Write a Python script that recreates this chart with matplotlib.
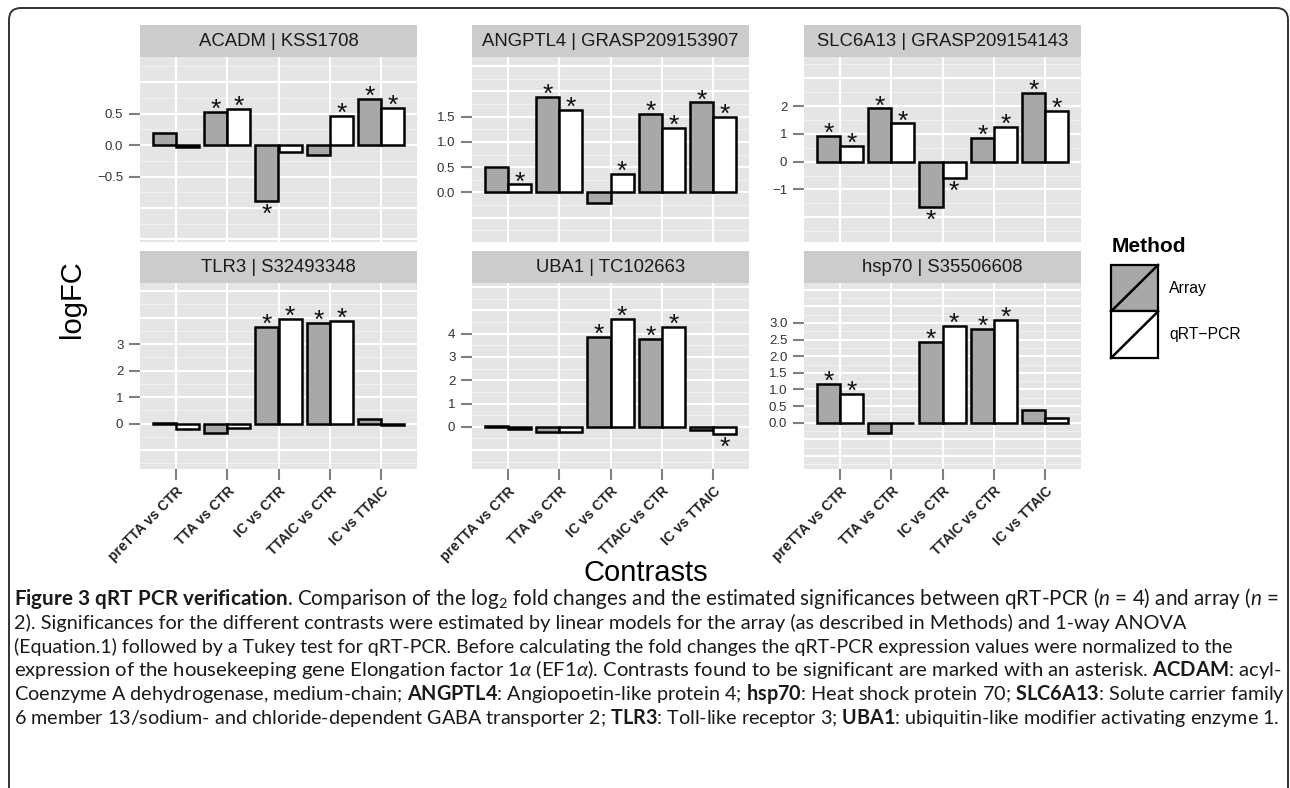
import numpy as np
import matplotlib
matplotlib.use("Agg")
import matplotlib.pyplot as plt
from matplotlib.patches import FancyBboxPatch, Rectangle

plt.rcParams['font.family'] = ['Liberation Sans', 'DejaVu Sans']
plt.rcParams['mathtext.fontset'] = 'custom'
plt.rcParams['mathtext.rm'] = 'Lato'
plt.rcParams['mathtext.it'] = 'Lato:italic'
plt.rcParams['mathtext.bf'] = 'Lato:bold'

# Data
contrasts = ['preTTA vs CTR', 'TTA vs CTR', 'IC vs CTR', 'TTAIC vs CTR', 'IC vs TTAIC']
panel_titles = ['ACADM | KSS1708', 'ANGPTL4 | GRASP209153907', 'SLC6A13 | GRASP209154143',
                'TLR3 | S32493348', 'UBA1 | TC102663', 'hsp70 | S35506608']
methods = ['Array', 'qRT\u2212PCR']

array_fc = [
    [0.195, 0.53, -0.885, -0.15, 0.74],
    [0.507, 1.89, -0.20, 1.56, 1.78],
    [0.94, 1.92, -1.62, 0.86, 2.48],
    [0.03, -0.36, 3.64, 3.79, 0.18],
    [0.04, -0.24, 3.86, 3.76, -0.12],
    [1.17, -0.30, 2.42, 2.81, 0.38],
]
qpcr_fc = [
    [-0.03, 0.58, -0.105, 0.47, 0.595],
    [0.16, 1.63, 0.36, 1.27, 1.50],
    [0.58, 1.38, -0.58, 1.24, 1.83],
    [-0.21, -0.15, 3.95, 3.89, -0.05],
    [-0.10, -0.24, 4.62, 4.30, -0.31],
    [0.855, -0.02, 2.92, 3.08, 0.15],
]
array_sig = [
    [0, 1, 1, 0, 1],
    [0, 1, 0, 1, 1],
    [1, 1, 1, 1, 1],
    [0, 0, 1, 1, 0],
    [0, 0, 1, 1, 0],
    [1, 0, 1, 1, 0],
]
qpcr_sig = [
    [0, 1, 0, 1, 1],
    [1, 1, 1, 1, 1],
    [1, 1, 1, 1, 1],
    [0, 0, 1, 1, 0],
    [0, 0, 1, 1, 1],
    [1, 0, 1, 1, 0],
]
y_labelled = [
    [-0.5, 0.0, 0.5],
    [0.0, 0.5, 1.0, 1.5],
    [-1, 0, 1, 2],
    [0, 1, 2, 3],
    [0, 1, 2, 3, 4],
    [0.0, 0.5, 1.0, 1.5, 2.0, 2.5, 3.0],
]

# scale layout
y_limits = [(-1.54, 1.40), (-0.98, 2.68), (-2.89, 3.77),
            (-1.71, 5.31), (-1.81, 6.17), (-1.39, 4.20)]
major_step = [0.5, 0.5, 1, 1, 1, 0.5]

W, H = 1290, 788
fig = plt.figure(figsize=(W / 100, H / 100), dpi=100)


def px_box(x0, y0, x1, y1):
    return [x0 / W, 1 - y1 / H, (x1 - x0) / W, (y1 - y0) / H]


col_left = [140, 472, 804]
panel_w = 277
row_strip_top = [25, 251]
row_panel_top = [57, 283]
row_panel_bot = [242, 469]

fill_array = '#A8A8A8'
fill_qpcr = 'white'
bar_w = 0.45
x = np.arange(1, len(contrasts) + 1)

for p in range(6):
    r, c = divmod(p, 3)
    x0 = col_left[c]
    ax = fig.add_axes(px_box(x0, row_panel_top[r], x0 + panel_w, row_panel_bot[r]))
    ax.set_facecolor('#E5E5E5')
    for s in ax.spines.values():
        s.set_visible(False)
    lo, hi = y_limits[p]
    ax.set_xlim(0.3, len(contrasts) + 0.7)
    ax.set_ylim(lo, hi)

    # grid
    st = major_step[p]
    for g in np.arange(np.ceil(lo / st) * st, hi, st):
        ax.axhline(g, color='white', lw=1.5, zorder=0.5)
    for g in np.arange(np.ceil(lo / st - 0.5) + 0.5, hi / st, 1.0) * st:
        ax.axhline(g, color='#F2F2F2', lw=0.7, zorder=0.4)
    for xi in x:
        ax.axvline(xi, color='white', lw=1.5, zorder=0.5)

    a = np.array(array_fc[p])
    q = np.array(qpcr_fc[p])
    ax.bar(x - bar_w / 2, a, width=bar_w, color=fill_array, edgecolor='black', linewidth=1.8, zorder=2)
    ax.bar(x + bar_w / 2, q, width=bar_w, color=fill_qpcr, edgecolor='black', linewidth=1.8, zorder=2)

    for vals, sig, off in ((a, array_sig[p], -bar_w / 2), (q, qpcr_sig[p], bar_w / 2)):
        for xi, v, sg in zip(x, vals, sig):
            if not sg:
                continue
            dy = -3.6 if v >= 0 else -15.0
            ax.annotate('*', xy=(xi + off, v), xytext=(0, dy), textcoords='offset points',
                        ha='center', va='baseline', fontsize=19, color='#111111', zorder=3)

    ax.set_yticks(y_labelled[p])
    ax.set_yticklabels([(('%g' % t) if major_step[p] >= 1 else '%.1f' % t).replace('-', '\u2212')
                        for t in y_labelled[p]])
    ax.tick_params(axis='y', length=8, width=1.5, color='#7F7F7F', pad=4,
                   labelsize=9.5, labelcolor='#333333')
    if r == 1:
        ax.set_xticks(x)
        ax.set_xticklabels(contrasts, rotation=45, ha='right', va='top', rotation_mode='anchor',
                           fontweight='bold', fontsize=10, color='#222222')
        ax.tick_params(axis='x', length=8, width=1.5, color='#7F7F7F', pad=3)
    else:
        ax.set_xticks([])

    # strip
    sax = fig.add_axes(px_box(x0, row_strip_top[r], x0 + panel_w, row_panel_top[r]))
    sax.set_facecolor('#CCCCCC')
    sax.set_xticks([])
    sax.set_yticks([])
    for s in sax.spines.values():
        s.set_visible(False)
    sax.text(0.5, 0.5, panel_titles[p], ha='center', va='center', fontsize=13.3,
             color='#1A1A1A', transform=sax.transAxes)

# axis titles
fig.text(72 / W, 1 - 299 / H, 'logFC', rotation=90, ha='center', va='center', fontsize=21)
fig.text(646 / W, 1 - 573 / H, 'Contrasts', ha='center', va='center', fontsize=21)

# legend
fig.text(1112 / W, 1 - 247 / H, 'Method', ha='left', va='center', fontsize=15, fontweight='bold')
kax = fig.add_axes(px_box(1111, 265, 1158, 358))
kax.set_xlim(0, 1)
kax.set_ylim(0, 2)
kax.axis('off')
for i, col in enumerate([fill_array, fill_qpcr]):
    y0 = 1 - i
    kax.add_patch(Rectangle((0, y0), 1, 1, facecolor=col, edgecolor='black', lw=1.6, clip_on=False))
    kax.plot([0, 1], [y0, y0 + 1], color='black', lw=1.8, clip_on=False)
fig.text(1169 / W, 1 - 289 / H, methods[0], ha='left', va='center', fontsize=11.3)
fig.text(1169 / W, 1 - 334 / H, methods[1], ha='left', va='center', fontsize=11.3)

# frame around figure + caption
frame = FancyBboxPatch((0.09, -0.3), 12.79, 7.80 + 0.3, boxstyle='round,pad=0,rounding_size=0.12',
                       transform=fig.dpi_scale_trans, facecolor='none', edgecolor='#333333', lw=1.4)
fig.patches.append(frame)

caption = [
    r'$\mathbf{Figure\ 3\ qRT\ PCR\ verification}$. Comparison of the log$_2$ fold changes and the estimated significances between qRT-PCR ($n$ = 4) and array ($n$ =',
    r'2). Significances for the different contrasts were estimated by linear models for the array (as described in Methods) and 1-way ANOVA',
    r'(Equation.1) followed by a Tukey test for qRT-PCR. Before calculating the fold changes the qRT-PCR expression values were normalized to the',
    r'expression of the housekeeping gene Elongation factor 1$\alpha$ (EF1$\alpha$). Contrasts found to be significant are marked with an asterisk. $\mathbf{ACDAM}$: acyl-',
    r'Coenzyme A dehydrogenase, medium-chain; $\mathbf{ANGPTL4}$: Angiopoetin-like protein 4; $\mathbf{hsp70}$: Heat shock protein 70; $\mathbf{SLC6A13}$: Solute carrier family',
    r'6 member 13/sodium- and chloride-dependent GABA transporter 2; $\mathbf{TLR3}$: Toll-like receptor 3; $\mathbf{UBA1}$: ubiquitin-like modifier activating enzyme 1.',
]
caption_right = [1277, 1184, 1229, 1277, 1279, 1279]
renderer = fig.canvas.get_renderer()
for i, line in enumerate(caption):
    t = fig.text(14 / W, 1 - (605 + 23.8 * i) / H, line, ha='left', va='baseline',
                 fontsize=13, family='Lato', color='#1A1A1A')
    w = t.get_window_extent(renderer).width
    t.set_fontsize(13 * (caption_right[i] - 14) / w)

fig.savefig('out.png', dpi=100)
